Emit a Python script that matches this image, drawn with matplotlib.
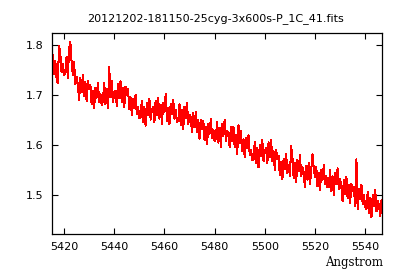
import numpy as np
import matplotlib
matplotlib.use("Agg")
import matplotlib.pyplot as plt

title = "20121202-181150-25cyg-3x600s-P_1C_41.fits"
xlabel = "Angstrom"
wl_start = 5415.5
wl_step = 0.5
flux = [
    1.780, 1.742, 1.768, 1.735, 1.724, 1.798, 1.784, 1.746, 1.763, 1.740,
    1.743, 1.777, 1.735, 1.790, 1.807, 1.767, 1.740, 1.766, 1.722, 1.737,
    1.721, 1.691, 1.734, 1.706, 1.740, 1.698, 1.726, 1.688, 1.729, 1.712,
    1.720, 1.682, 1.708, 1.675, 1.715, 1.695, 1.724, 1.686, 1.703, 1.680,
    1.690, 1.724, 1.682, 1.712, 1.674, 1.756, 1.696, 1.728, 1.686, 1.706,
    1.709, 1.679, 1.722, 1.694, 1.728, 1.686, 1.714, 1.676, 1.717, 1.700,
    1.712, 1.672, 1.696, 1.661, 1.693, 1.675, 1.700, 1.662, 1.677, 1.655,
    1.655, 1.689, 1.647, 1.677, 1.639, 1.684, 1.661, 1.693, 1.651, 1.671,
    1.676, 1.646, 1.689, 1.661, 1.695, 1.653, 1.681, 1.643, 1.684, 1.667,
    1.702, 1.649, 1.675, 1.642, 1.682, 1.662, 1.691, 1.653, 1.670, 1.647,
    1.648, 1.682, 1.640, 1.670, 1.632, 1.677, 1.654, 1.684, 1.642, 1.660,
    1.656, 1.626, 1.664, 1.636, 1.667, 1.627, 1.651, 1.613, 1.650, 1.633,
    1.648, 1.610, 1.636, 1.603, 1.643, 1.623, 1.652, 1.614, 1.631, 1.608,
    1.613, 1.647, 1.605, 1.635, 1.597, 1.642, 1.619, 1.650, 1.608, 1.628,
    1.626, 1.596, 1.637, 1.609, 1.637, 1.596, 1.620, 1.583, 1.640, 1.605,
    1.628, 1.588, 1.612, 1.576, 1.614, 1.594, 1.620, 1.580, 1.591, 1.570,
    1.572, 1.606, 1.564, 1.594, 1.556, 1.601, 1.578, 1.610, 1.568, 1.588,
    1.594, 1.564, 1.606, 1.577, 1.610, 1.568, 1.588, 1.550, 1.591, 1.573,
    1.578, 1.540, 1.566, 1.533, 1.573, 1.553, 1.582, 1.544, 1.561, 1.538,
    1.598, 1.576, 1.534, 1.564, 1.526, 1.571, 1.548, 1.580, 1.538, 1.556,
    1.546, 1.516, 1.559, 1.531, 1.565, 1.523, 1.551, 1.582, 1.554, 1.537,
    1.556, 1.518, 1.544, 1.511, 1.551, 1.531, 1.560, 1.522, 1.539, 1.516,
    1.516, 1.550, 1.508, 1.538, 1.500, 1.545, 1.522, 1.554, 1.512, 1.532,
    1.518, 1.488, 1.531, 1.503, 1.537, 1.495, 1.520, 1.485, 1.523, 1.509,
    1.517, 1.479, 1.572, 1.472, 1.512, 1.492, 1.521, 1.483, 1.500, 1.477,
    1.472, 1.506, 1.464, 1.494, 1.456, 1.501, 1.478, 1.510, 1.468, 1.488,
    1.482, 1.458, 1.490,
]
xticks = [5420, 5440, 5460, 5480, 5500, 5520, 5540]
yticks = [1.5, 1.6, 1.7, 1.8]
xlim = (5415.2, 5546.7)
ylim = (1.4226, 1.824)

wl = wl_start + wl_step * np.arange(len(flux))

fig = plt.figure(figsize=(4, 2.8), dpi=100)
ax = fig.add_axes([0.13, 0.164, 0.825, 0.718])
ax.plot(wl, flux, color="red", lw=0.75, antialiased=False)
ax.set_xlim(*xlim)
ax.set_ylim(*ylim)
ax.set_xticks(xticks)
ax.set_yticks(yticks)
ax.set_xticklabels([str(t) for t in xticks])
ax.set_yticklabels([f"{t:.1f}" for t in yticks])
ax.tick_params(direction="in", length=4, width=0.8, top=True, right=True,
               labelsize=8, pad=6, colors="black")
for s in ax.spines.values():
    s.set_linewidth(0.9)
fig.text(0.54, 0.932, title, ha="center", va="center", fontsize=8,
         family="DejaVu Sans")
fig.text(0.957, 0.064, xlabel, ha="right", va="center", fontsize=8.5,
         family="DejaVu Serif")
fig.savefig("out.png", dpi=100)
